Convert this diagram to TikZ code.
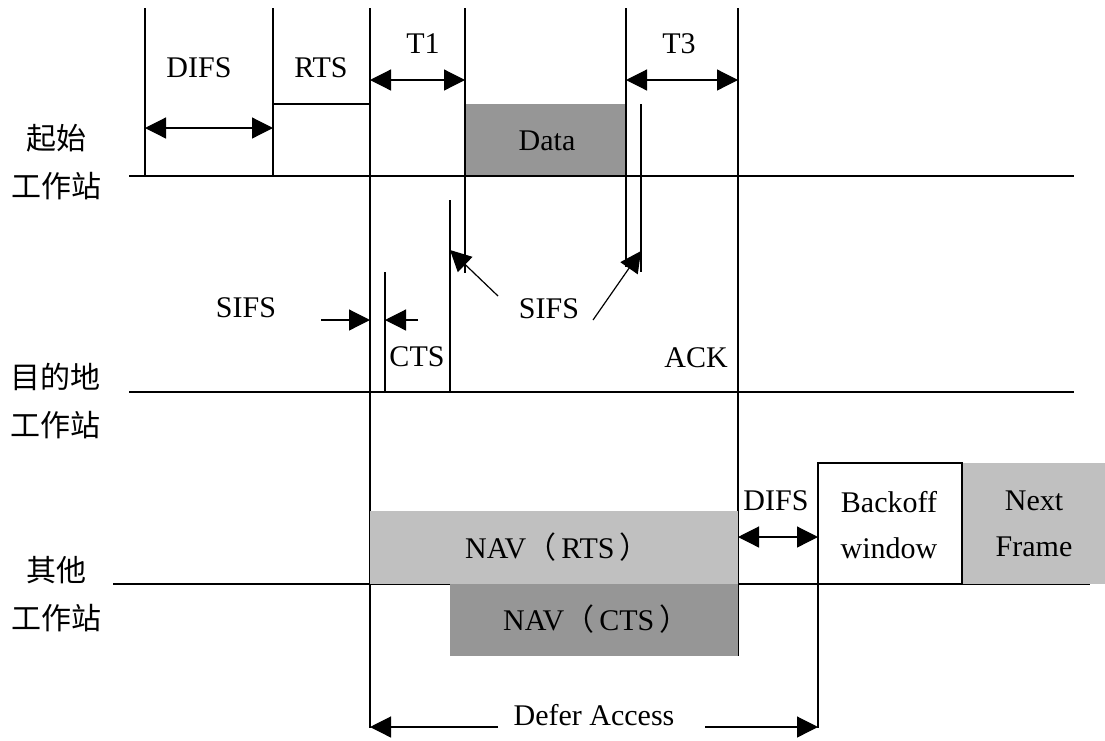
\documentclass[tikz,border=0pt]{standalone}
\usepackage{fontspec}
\setmainfont{Liberation Serif}
\newfontfamily\cjk{Noto Sans CJK SC}
\usetikzlibrary{arrows.meta}
\definecolor{framelight}{RGB}{192,192,192}
\definecolor{framedark}{RGB}{150,150,150}
% full-width parentheses with a little air around the enclosed word
\newcommand{\lpar}{{\cjk （}\hspace{5pt}}
\newcommand{\rpar}{\hspace{5pt}{\cjk ）}}

\begin{document}
\begin{tikzpicture}[x=1pt,y=-1pt,
  wire/.style={line width=1.2pt},
  span/.style={line width=1.2pt,
    {Triangle[length=21pt,width=21pt]}-{Triangle[length=21pt,width=21pt]}},
  pointer/.style={line width=1.2pt, -{Triangle[length=21pt,width=21pt]}},
  lbl/.style={font=\fontsize{30}{46}\selectfont, inner sep=0pt, anchor=base},
  twoline/.style={font=\fontsize{30}{46}\selectfont, inner sep=0pt, align=center},
  station/.style={font=\cjk\fontsize{30}{48}\selectfont, inner sep=0pt, align=center},
]
\useasboundingbox (0,0) rectangle (1105,740);

% time instants (x positions)
\coordinate (tDifs)  at (145,0);
\coordinate (tRts)   at (273,0);
\coordinate (tRtsE)  at (370,0);
\coordinate (tCts)   at (385,0);
\coordinate (tCtsE)  at (450,0);
\coordinate (tData)  at (465,0);
\coordinate (tDataE) at (626,0);
\coordinate (tAck)   at (641,0);
\coordinate (tAckE)  at (738,0);
\coordinate (tBack)  at (818,0);
\coordinate (tNext)  at (962,0);

% data frame of the sending station
\fill[framedark] (465,104) rectangle (626,175);

% station time lines
\coordinate (src0) at (129,176); \coordinate (src1) at (1074,176);
\coordinate (dst0) at (129,392); \coordinate (dst1) at (1074,392);
\coordinate (oth0) at (113,584); \coordinate (oth1) at (1090,584);
\draw[wire] (src0) -- (src1);
\draw[wire] (dst0) -- (dst1);
\draw[wire] (oth0) -- (oth1);

% frame boundaries
\draw[wire] (tDifs |- 0,8) -- (tDifs |- src0);
\draw[wire] (tRts |- 0,8) -- (tRts |- src0);
\draw[wire] (tRts |- 0,104) -- (tRtsE |- 0,104);
\draw[wire] (tRtsE |- 0,8) -- (tRtsE |- 0,728);
\draw[wire] (tData |- 0,8) -- (tData |- 0,273);
\draw[wire] (tDataE |- 0,8) -- (tDataE |- 0,267);
\draw[wire] (tAck |- 0,104) -- (tAck |- 0,272);
\draw[wire] (tAckE |- 0,8) -- (tAckE |- 0,656);
\draw[wire] (tCtsE |- 0,200) -- (tCtsE |- dst0);
\draw[wire] (tCts |- 0,272) -- (tCts |- dst0);
\draw[wire] (tBack |- 0,463) -- (tBack |- 0,728);

% NAV frames and next frame of the other stations
\fill[framelight] (370,511) rectangle (738,584);
\fill[framedark] (450,584) rectangle (738,656);
\fill[framelight] (962,463) rectangle (1105,584);
\draw[wire, fill=white] (818,463) rectangle (962,584);

% interval arrows
\coordinate (difsA) at (145,128); \coordinate (difsB) at (273,128);
\draw[span] (difsA) -- (difsB);
\coordinate (t1A) at (370,80); \coordinate (t1B) at (465,80);
\draw[span] (t1A) -- (t1B);
\coordinate (t3A) at (626,80); \coordinate (t3B) at (738,80);
\draw[span] (t3A) -- (t3B);
\coordinate (sifsL) at (321,320); \coordinate (sifsLt) at (370,320);
\draw[pointer] (sifsL) -- (sifsLt);
\coordinate (sifsR) at (418,320); \coordinate (sifsRt) at (385,320);
\draw[pointer] (sifsR) -- (sifsRt);
\coordinate (sifs1) at (498,296); \coordinate (sifs1t) at (450,250);
\draw[pointer] (sifs1) -- (sifs1t);
\coordinate (sifs2) at (593,320); \coordinate (sifs2t) at (641,251);
\draw[pointer] (sifs2) -- (sifs2t);
\coordinate (difs2A) at (738,537); \coordinate (difs2B) at (818,537);
\draw[span] (difs2A) -- (difs2B);
\coordinate (deferL) at (498,727); \coordinate (deferLt) at (370,727);
\draw[pointer] (deferL) -- (deferLt);
\coordinate (deferR) at (705,727); \coordinate (deferRt) at (818,727);
\draw[pointer] (deferR) -- (deferRt);

% labels
\node[lbl] (lDifs) at (199,77) {DIFS};
\node[lbl] (lRts)  at (321,77) {RTS};
\node[lbl] (lT1)   at (423,53) {T1};
\node[lbl] (lT3)   at (679,53) {T3};
\node[lbl] (lData) at (547,150) {Data};
\node[lbl] (lSifsA) at (246,317) {SIFS};
\node[lbl] (lSifsB) at (549,318) {SIFS};
\node[lbl] (lCts)  at (417,366) {CTS};
\node[lbl] (lAck)  at (696,367) {ACK};
\node[lbl, anchor=base west] (lNavR) at (465,558) {NAV\lpar RTS\rpar};
\node[lbl, anchor=base west] (lNavC) at (503,630) {NAV\lpar CTS\rpar};
\node[lbl] (lDifs2) at (776,510) {DIFS};
\node[twoline] (lBack) at (889,525) {Backoff\\window};
\node[twoline] (lNext) at (1034,524) {Next\\Frame};
\node[lbl] (lDefer) at (594,725) {Defer Access};

% station names
\node[station] (stSrc) at (57,162) {起始\\工作站};
\node[station] (stDst) at (55,401) {目的地\\工作站};
\node[station] (stOth) at (57,594) {其他\\工作站};
\end{tikzpicture}
\end{document}
